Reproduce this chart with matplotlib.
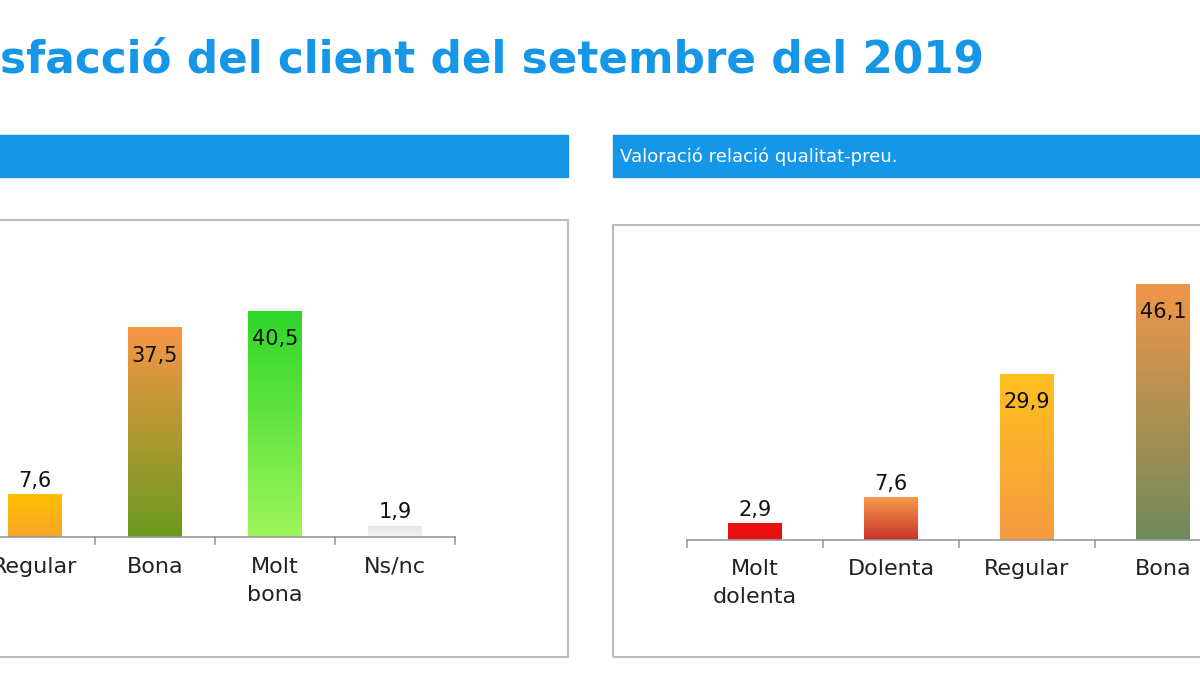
import matplotlib
matplotlib.use("Agg")
import matplotlib.pyplot as plt
import numpy as np
from matplotlib.colors import LinearSegmentedColormap
from matplotlib.patches import Rectangle

title = "sfacció del client del setembre del 2019"
right_header = "Valoració relació qualitat-preu."

left_cats = ["Regular", "Bona", "Molt\nbona", "Ns/nc"]
left_vals = [7.6, 37.5, 40.5, 1.9]
left_labels = ["7,6", "37,5", "40,5", "1,9"]
left_grad = [("#ffc000", "#f7a52a"), ("#f79646", "#6a9a1e"), ("#2fd62a", "#9df55a"), ("#e6e6e6", "#f2f2f2")]

right_cats = ["Molt\ndolenta", "Dolenta", "Regular", "Bona"]
right_vals = [2.9, 7.6, 29.9, 46.1]
right_labels = ["2,9", "7,6", "29,9", "46,1"]
right_grad = [("#e81010", "#e81010"), ("#f59a4a", "#c8322a"), ("#ffc020", "#f59a40"), ("#f0964a", "#6f8a5a")]

W, H = 1200, 675
fig = plt.figure(figsize=(12, 6.75), dpi=100)
fig.patch.set_facecolor("white")
BLUE = "#1696e6"

def fx(px): return px / W
def fy(py): return 1 - py / H

fig.text(fx(0), fy(60), title, color=BLUE, fontsize=31.5, fontweight="bold",
         va="center", ha="left", family="DejaVu Sans")

fig.patches.append(Rectangle((fx(-5), fy(177)), fx(573), 42 / H, transform=fig.transFigure,
                             color=BLUE, zorder=1))
fig.patches.append(Rectangle((fx(613), fy(177)), fx(600), 42 / H, transform=fig.transFigure,
                             color=BLUE, zorder=1))
fig.text(fx(620), fy(157), right_header, color="white", fontsize=13, va="center", ha="left")

fig.patches.append(Rectangle((fx(-5), fy(657)), fx(573), 437 / H, transform=fig.transFigure,
                             fill=False, ec="#bbbbbb", lw=1.5))
fig.patches.append(Rectangle((fx(613), fy(657)), fx(600), 432 / H, transform=fig.transFigure,
                             fill=False, ec="#bbbbbb", lw=1.5))

def panel(left_px, right_px, base_px, pxunit):
    ymax = 50
    h_px = ymax * pxunit
    ax = fig.add_axes([fx(left_px), fy(base_px), fx(right_px - left_px), h_px / H])
    ax.set_xlim(left_px, right_px)
    ax.set_ylim(0, ymax)
    ax.axis("off")
    ax.set_zorder(3)
    return ax

def draw(ax, xs, vals, labels, cats, grads, bw, step):
    for x, v, lab, c, g in zip(xs, vals, labels, cats, grads):
        cmap = LinearSegmentedColormap.from_list("g", [g[1], g[0]])
        grad = np.linspace(0, 1, 100).reshape(-1, 1)
        ax.imshow(grad, extent=(x - bw / 2, x + bw / 2, 0, v), origin="lower",
                  cmap=cmap, aspect="auto", zorder=2)
        ty = v + 2.5 if v < 20 else v - 5
        ax.text(x, ty, lab, ha="center", va="center", fontsize=15, color="#111111", zorder=4)
        ax.text(x, -3.5, c, ha="center", va="top", fontsize=16, color="#222222",
                linespacing=1.5, clip_on=False)
    lo = xs[0] - step / 2
    hi = xs[-1] + step / 2
    ax.plot([lo, hi], [0, 0], color="#999999", lw=1.2, clip_on=False)
    for i in range(len(xs) + 1):
        t = xs[0] - step / 2 + i * step
        ax.plot([t, t], [0, -1.3], color="#999999", lw=1.2, clip_on=False)

axL = panel(-200, 568, 537, 5.58)
stepL = 120
xsL = [35 + i * stepL for i in range(len(left_cats))]
draw(axL, xsL, left_vals, left_labels, left_cats, left_grad, 54, stepL)

axR = panel(613, 1200, 540, 5.55)
stepR = 136
xsR = [755 + i * stepR for i in range(len(right_cats))]
draw(axR, xsR, right_vals, right_labels, right_cats, right_grad, 54, stepR)

fig.savefig("out.png", dpi=100)
